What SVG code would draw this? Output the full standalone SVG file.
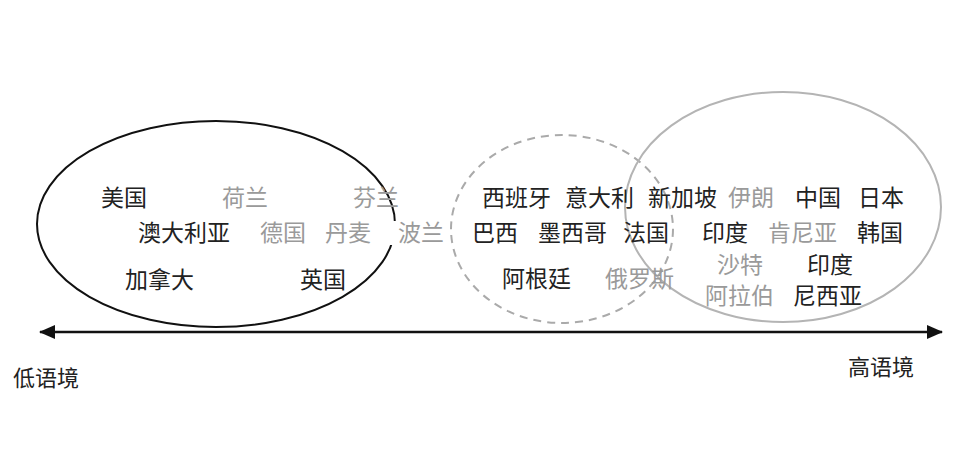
<svg xmlns="http://www.w3.org/2000/svg" width="960" height="464" viewBox="0 0 960 464">
<defs>
<style>
text{font-family:"Noto Sans CJK SC","Noto Sans CJK JP",sans-serif;font-size:23px;}
.k{fill:#222;}
.g{fill:#9a9a9a;}
.ax{font-size:22px;fill:#222;}
</style>
<marker id="ah" viewBox="0 0 16 14" refX="15" refY="7" markerWidth="16" markerHeight="14" markerUnits="userSpaceOnUse" orient="auto-start-reverse">
<path d="M0,0 L16,7 L0,14 Z" fill="#111"/>
</marker>
</defs>
<rect width="960" height="464" fill="#fff"/>
<g id="group-low">
<ellipse cx="216" cy="224" rx="179" ry="103" fill="none" stroke="#111" stroke-width="2"/>
</g>
<g id="group-mid">
<ellipse cx="562" cy="229" rx="111" ry="94" fill="none" stroke="#aaa" stroke-width="2" stroke-dasharray="8,6"/>
</g>
<g id="group-high">
<ellipse cx="783" cy="207" rx="158" ry="115" fill="none" stroke="#b4b4b4" stroke-width="2"/>
</g>
<g id="connectors">
<line x1="40" y1="332" x2="942" y2="332" stroke="#111" stroke-width="2.5" marker-start="url(#ah)" marker-end="url(#ah)"/>
</g>
<g id="labels">
<text class="k" x="101" y="206">美国</text>
<text class="g" x="222" y="206">荷兰</text>
<text class="g" x="353" y="206">芬兰</text>
<text class="k" x="482" y="206">西班牙</text>
<text class="k" x="565" y="206">意大利</text>
<text class="k" x="648" y="206">新加坡</text>
<text class="g" x="728" y="206">伊朗</text>
<text class="k" x="795" y="206">中国</text>
<text class="k" x="858" y="206">日本</text>

<text class="k" x="138" y="241">澳大利亚</text>
<text class="g" x="260" y="241">德国</text>
<text class="g" x="325" y="241">丹麦</text>
<rect x="388" y="221" width="58" height="24" fill="#fff"/>
<text class="g" x="398" y="241">波兰</text>
<text class="k" x="472" y="241">巴西</text>
<text class="k" x="538" y="241">墨西哥</text>
<text class="k" x="623" y="241">法国</text>
<text class="k" x="702" y="241">印度</text>
<text class="g" x="768" y="241">肯尼亚</text>
<text class="k" x="857" y="241">韩国</text>

<text class="k" x="125" y="288">加拿大</text>
<text class="k" x="300" y="288">英国</text>
<text class="k" x="502" y="287">阿根廷</text>
<text class="g" x="605" y="287">俄罗斯</text>
<text class="g" x="717" y="273">沙特</text>
<text class="k" x="807" y="273">印度</text>
<text class="g" x="705" y="304">阿拉伯</text>
<text class="k" x="793" y="304">尼西亚</text>

<text class="ax" x="13" y="386">低语境</text>
<text class="ax" x="848" y="375">高语境</text>
</g>
</svg>
